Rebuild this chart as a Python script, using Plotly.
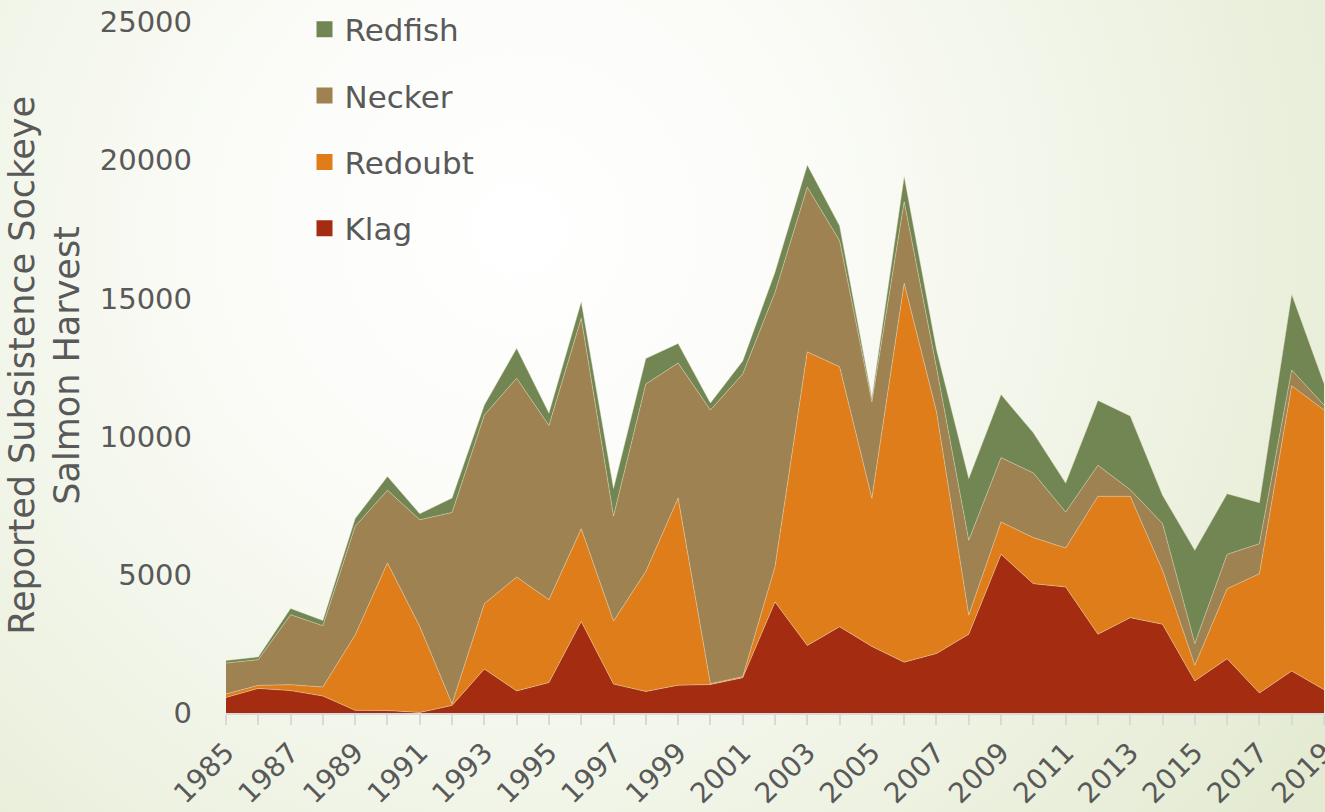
import base64
import plotly.graph_objects as go

years = list(range(1985, 2020))
klag = [560, 890, 810, 615, 95, 90, 20, 275, 1590, 800, 1100, 3310, 1045, 780, 1005, 1030, 1275,
        4020, 2440, 3120, 2410, 1840, 2150, 2850, 5740, 4680, 4560, 2850, 3450, 3210, 1160, 1965,
        725, 1520, 845]
redoubt = [125, 110, 215, 325, 2730, 5340, 3110, 60, 2365, 4120, 3000, 3360, 2280, 4340, 6770, 30,
           40, 1270, 10625, 9410, 5360, 13710, 8750, 690, 1170, 1665, 1410, 4990, 4390, 1955, 565,
           2530, 4315, 10320, 10115]
necker = [1120, 930, 2530, 2220, 3930, 2630, 3860, 6920, 6825, 7190, 6300, 7610, 3800, 6780, 4890,
          9900, 10950, 9920, 5960, 4560, 3485, 2950, 1600, 2710, 2330, 2340, 1300, 1120, 240, 1690,
          785, 1245, 1085, 570, 180]
redfish = [95, 100, 230, 190, 280, 500, 220, 520, 360, 1085, 450, 600, 1000, 925, 700, 255, 470,
           740, 800, 535, 135, 910, 650, 2230, 2280, 1450, 1050, 2350, 2665, 1025, 3375, 2195, 1485,
           2740, 780]

series_names = ["Klag", "Redoubt", "Necker", "Redfish"]
series_values = [klag, redoubt, necker, redfish]
series_colors = ["#A42D11", "#DE7D19", "#9E8251", "#728653"]

y_ticks = [0, 5000, 10000, 15000, 20000, 25000]
x_tick_years = list(range(1985, 2020, 2))

W, H = 1325, 812
ML, MR, MT, MB = 226, 1, 22, 99
PW, PH = W - ML - MR, H - MT - MB

FONT = "DejaVu Sans"
GREY = "#595959"

fig = go.Figure()
for name, vals, col in zip(series_names, series_values, series_colors):
    fig.add_trace(go.Scatter(
        x=years, y=vals, name=name, stackgroup="one", mode="lines",
        line=dict(width=0.8, color="rgba(235,225,200,0.55)"),
        fillcolor=col, showlegend=False, hoverinfo="x+y+name"))

# legend entries (square swatches), reversed order
for name, col in reversed(list(zip(series_names, series_colors))):
    fig.add_trace(go.Scatter(
        x=[None], y=[None], name=name, mode="markers", legendgroup=name,
        marker=dict(symbol="square", size=19, color=col, line=dict(width=0)),
        showlegend=True))

svg = f'''<svg xmlns="http://www.w3.org/2000/svg" width="{W}" height="{H}">
<defs><radialGradient id="g" gradientUnits="userSpaceOnUse" cx="520" cy="230" r="950">
<stop offset="0" stop-color="#ffffff"/><stop offset="0.3" stop-color="#fbfcf8"/>
<stop offset="1" stop-color="#e4ebd2"/></radialGradient></defs>
<rect width="{W}" height="{H}" fill="url(#g)"/></svg>'''
src = "data:image/svg+xml;base64," + base64.b64encode(svg.encode()).decode()

fig.update_layout(
    width=W, height=H,
    margin=dict(l=ML, r=MR, t=MT, b=MB, pad=0),
    paper_bgcolor="#ffffff", plot_bgcolor="rgba(0,0,0,0)",
    font=dict(family=FONT, color=GREY),
    images=[dict(source=src, xref="paper", yref="paper",
                 x=-ML / PW, y=1 + MT / PH, sizex=W / PW, sizey=H / PH,
                 xanchor="left", yanchor="top", sizing="stretch", layer="below")],
    showlegend=True,
    legend=dict(x=0.0715, y=1.028, xanchor="left", yanchor="top",
                bgcolor="rgba(0,0,0,0)", font=dict(size=31, color=GREY, family=FONT),
                tracegroupgap=23, itemwidth=30),
    xaxis=dict(range=[1985, 2019], tickmode="array", tickvals=x_tick_years,
               ticktext=[str(y) for y in x_tick_years], tickangle=-45,
               tickfont=dict(size=28, color=GREY, family=FONT),
               ticklabeloverflow="allow",
               ticks="outside", ticklen=10, tickcolor="#d9d9d9", tickwidth=1.5,
               minor=dict(ticks="outside", dtick=1, tick0=1985, ticklen=10,
                          tickcolor="#d9d9d9", tickwidth=1.5, showgrid=False),
               showline=True, linecolor="#d9d9d9", linewidth=2,
               showgrid=False, zeroline=False, automargin=False),
    yaxis=dict(range=[0, 25000], tickmode="array", tickvals=y_ticks,
               ticktext=[str(v) for v in y_ticks],
               tickfont=dict(size=29, color=GREY, family=FONT),
               ticks="", ticklabelstandoff=33, showline=False,
               showgrid=False, zeroline=False, automargin=False),
    annotations=[dict(text="Reported Subsistence Sockeye<br>Salmon Harvest",
                      xref="paper", yref="paper", x=-0.1645, y=0.503,
                      xanchor="center", yanchor="middle", textangle=-90,
                      showarrow=False, font=dict(size=35, color=GREY, family=FONT))],
)

fig.write_html("out.html", config={"displayModeBar": False},
               post_script="document.body.style.margin='0';document.body.style.overflow='hidden';")
